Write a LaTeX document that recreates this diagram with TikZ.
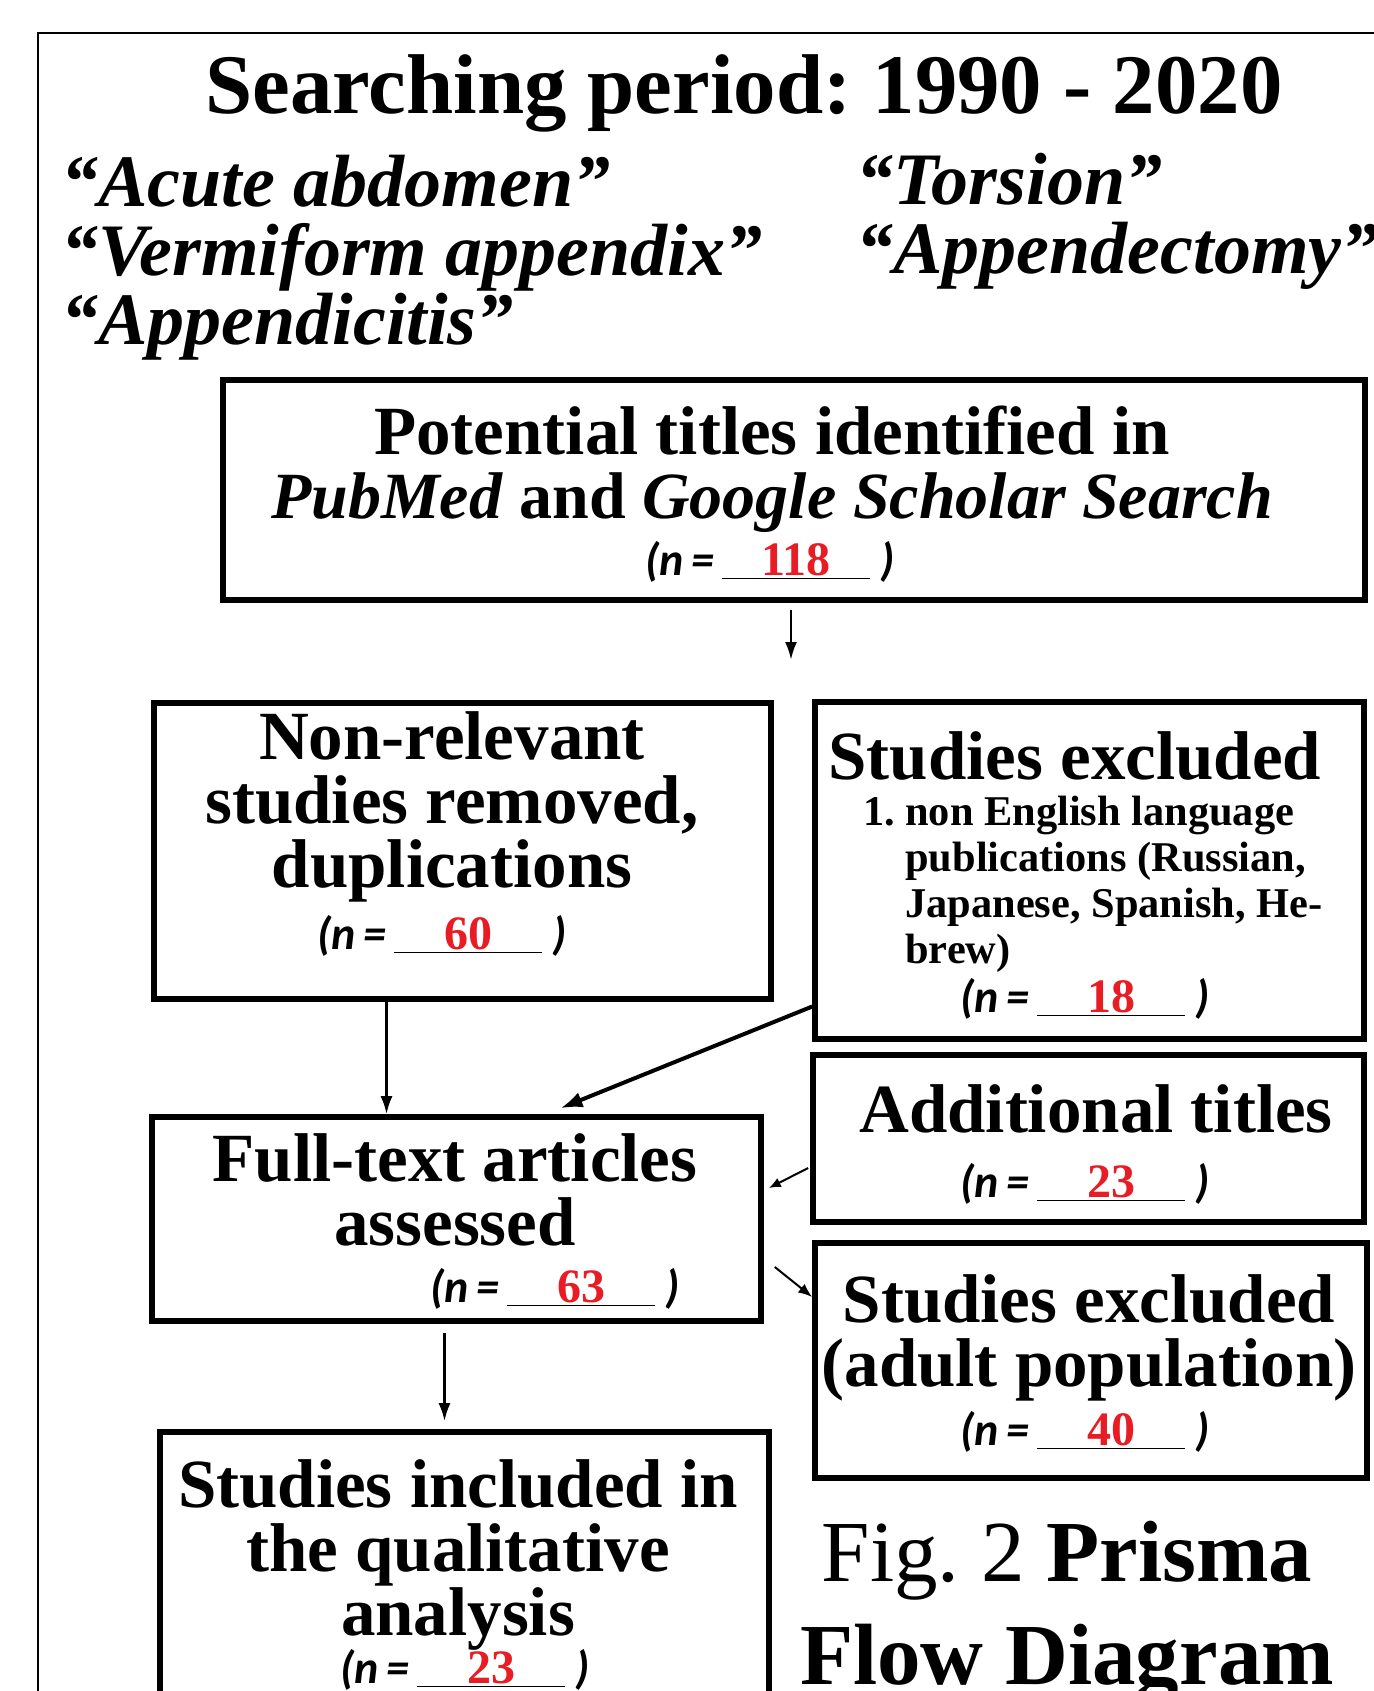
\documentclass[tikz,border=0pt]{standalone}
\usepackage{fontspec}
\setmainfont{Liberation Serif}
\newfontfamily\calfont{Carlito}
\usetikzlibrary{arrows.meta}
\definecolor{nred}{RGB}{232,28,36}
\frenchspacing
% (n = ___ ) line
\newcommand{\ncount}[1]{{\fontsize{23}{26}\selectfont\calfont\bfseries\itshape(n\,=\,}%
  {\fontsize{23}{26}\selectfont\underline{\makebox[74pt]{\fontsize{24}{26}\selectfont\bfseries\color{nred}#1}}}%
  {\fontsize{23}{26}\selectfont\calfont\bfseries\itshape\ )}}

\begin{document}
\begin{tikzpicture}[x=0.5pt,y=-0.5pt,
    box/.style={draw,line width=2.8pt,inner sep=0pt},
    head/.style={font=\fontsize{34.5}{32}\selectfont\bfseries,align=center,inner sep=0pt},
    terms/.style={font=\fontsize{37}{34.5}\selectfont\bfseries\itshape,align=left,inner sep=0pt},
    list/.style={font=\fontsize{21.2}{23}\selectfont\bfseries,align=left,inner sep=0pt},
    arr/.style={-{Latex[length=9pt,width=6pt]},line width=1.3pt}]
    \clip (0,0) rectangle (1374,1691);
    \draw[line width=1pt] (38,1760) -- (38,33) -- (1420,33);

    % header
    \node[font=\fontsize{42.4}{48}\selectfont\bfseries,anchor=base,inner sep=0pt] (title) at (744,113) {Searching period: 1990 - 2020};
    \node[terms,anchor=north west] (termsl) at (61,155) {“Acute abdomen”\\“Vermiform appendix”\\“Appendicitis”};
    \node[terms,anchor=north west] (termsr) at (856,153) {“Torsion”\\“Appendectomy”};

    % boxes
    \node[box,minimum width=571pt,minimum height=110pt] (pot) at (794,490) {};
    \node[box,minimum width=308.5pt,minimum height=148pt] (nonrel) at (462.5,851) {};
    \node[box,minimum width=274.5pt,minimum height=168.5pt] (excl) at (1089.5,870.5) {};
    \node[box,minimum width=304.5pt,minimum height=102pt] (full) at (456.5,1219) {};
    \node[box,minimum width=275.5pt,minimum height=83.5pt] (addt) at (1088.5,1138.5) {};
    \node[box,minimum width=276pt,minimum height=117.5pt] (adult) at (1091,1360.5) {};
    \node[box,minimum width=304.5pt,minimum height=164pt] (incl) at (464.5,1596) {};

    % box texts
    \node[head,anchor=north] (pott) at (772,406) {Potential titles identified in\\{\fontsize{33}{32}\selectfont\textit{PubMed} and \textit{Google Scholar Search}}};
    \node[anchor=base,inner sep=0pt] (potn) at (770,575) {\ncount{118}};
    \node[head,anchor=north] (nonrelt) at (452,711) {Non-relevant\\studies removed,\\duplications};
    \node[anchor=base,inner sep=0pt] (nonreln) at (442,949) {\ncount{60}};
    \node[head,anchor=base west] (exclt) at (828,779) {Studies excluded};
    \node[list,anchor=north west] (exclist) at (905,796) {\llap{1.\ }non English language\\publications (Russian,\\Japanese, Spanish, He-\\brew)};
    \node[anchor=base,inner sep=0pt] (excln) at (1085,1012) {\ncount{18}};
    \node[head,anchor=north] (fullt) at (455,1133) {Full-text articles\\assessed};
    \node[anchor=base,inner sep=0pt] (fulln) at (555,1302) {\ncount{63}};
    \node[head,anchor=base] (addtt) at (1096,1132) {Additional titles};
    \node[anchor=base,inner sep=0pt] (addtn) at (1085,1197) {\ncount{23}};
    \node[head,anchor=north] (adultt) at (1089,1274) {Studies excluded\\(adult population)};
    \node[anchor=base,inner sep=0pt] (adultn) at (1085,1445) {\ncount{40}};
    \node[head,anchor=north] (inclt) at (458,1459) {Studies included in\\the qualitative\\analysis};
    \node[anchor=base,inner sep=0pt] (incln) at (465,1683) {\ncount{23}};

    \node[font=\fontsize{43.5}{51.5}\selectfont,align=center,anchor=north,inner sep=0pt] (cap) at (1067,1521) {Fig. 2 \textbf{Prisma}\\\textbf{Flow Diagram}};

    % connectors
    \coordinate (potend) at (791,660);
    \draw[arr] ([xshift=-1.5pt,yshift=-3.5pt]pot.south) -- (potend);
    \draw[arr] ([xshift=-38pt]nonrel.south) -- ([xshift=-35pt]full.north);
    \draw[-{Latex[length=11pt,width=8pt]},line width=2pt] ([yshift=-68pt]excl.west) -- ([xshift=52pt,yshift=3pt]full.north);
    \draw[-{Latex[length=6pt,width=5pt]},line width=1pt] ([xshift=-1pt,yshift=-14.75pt]addt.west) -- ([xshift=2.5pt,yshift=15.5pt]full.east);
    \draw[-{Latex[length=7pt,width=5.5pt]},line width=1pt] ([xshift=5.5pt,yshift=-24pt]full.east) -- ([yshift=31.75pt]adult.west);
    \draw[arr] ([xshift=-6pt,yshift=-4.5pt]full.south) -- ([xshift=-10pt,yshift=4pt]incl.north);
\end{tikzpicture}
\end{document}
